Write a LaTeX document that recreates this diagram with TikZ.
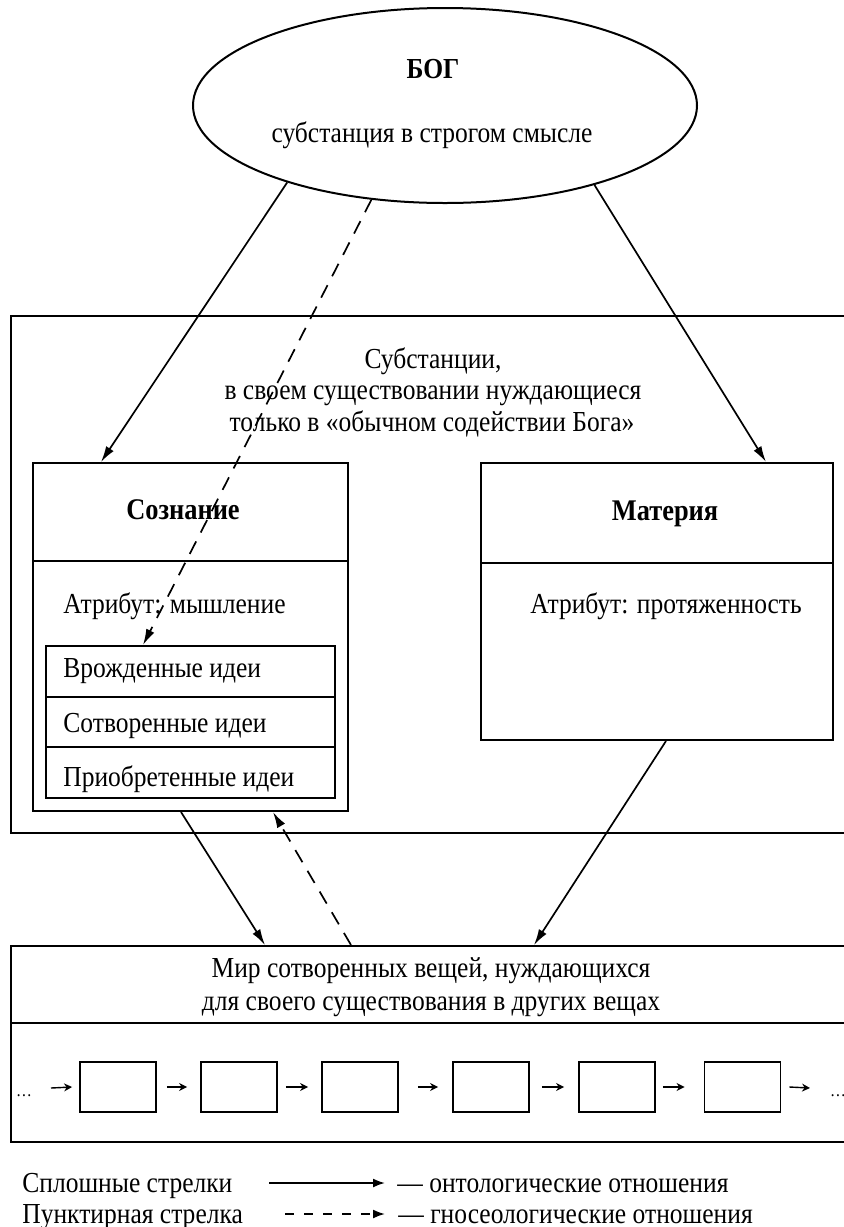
\documentclass[tikz,border=0pt]{standalone}
\usepackage{fontspec}
\setmainfont{Liberation Serif}[FakeStretch=0.88]
\usetikzlibrary{arrows.meta,shapes.geometric,calc}
\begin{document}
\begin{tikzpicture}[x=0.5pt,y=-0.5pt,
  box/.style={draw, line width=1pt, rectangle, inner sep=0pt},
  txt/.style={inner sep=0pt, font=\fontsize{14.5}{16}\selectfont},
  btxt/.style={inner sep=0pt, font=\fontsize{15}{17}\selectfont\bfseries},
  solidarrow/.style={line width=0.85pt, -{Latex[length=8pt,width=4.5pt]}},
  dasharrow/.style={solidarrow, dash pattern=on 7pt off 5pt},
  smallarrow/.style={line width=0.7pt, -{Stealth[length=4pt,width=4pt]}},
  legarrow/.style={line width=0.9pt, -{Latex[length=6pt,width=4.5pt]}},
  legdash/.style={legarrow, dash pattern=on 4.3pt off 5.2pt},
]
\useasboundingbox (0,0) rectangle (844,1227);
\clip (0,0) rectangle (844,1227);

% God
\node[box, ellipse, minimum width=252pt, minimum height=97.5pt] (god) at (445,105.5) {};
\node[btxt, font=\fontsize{14.5}{16}\selectfont\bfseries, anchor=base] (godname) at (433,78) {БОГ};
\node[txt, anchor=base] (godsub) at (432,142) {субстанция в строгом смысле};

% substances box
\node[box, minimum width=429.5pt, minimum height=258.5pt] (subst) at (440.5,574.5) {};
\node[txt, anchor=base] (sub1) at (433,368) {Субстанции,};
\node[txt, anchor=base] (sub2) at (433,399) {в своем существовании нуждающиеся};
\node[txt, anchor=base] (sub3) at (432,431) {только в «обычном содействии Бога»};

% consciousness
\node[box, minimum width=157.5pt, minimum height=49pt] (sozhead) at (190.5,512) {};
\node[box, minimum width=157.5pt, minimum height=125pt] (sozbody) at (190.5,686) {};
\node[btxt, anchor=base] (sozname) at (183,519) {Сознание};
\node[txt, anchor=base west] (sozattr) at (63,613) {Атрибут: мышление};
\node[box, minimum width=144.5pt, minimum height=25.5pt] (idea1) at (190.5,671.5) {};
\node[box, minimum width=144.5pt, minimum height=25pt] (idea2) at (190.5,722) {};
\node[box, minimum width=144.5pt, minimum height=25.5pt] (idea3) at (190.5,772.5) {};
\node[txt, anchor=base west] (idea1t) at (63,677) {Врожденные идеи};
\node[txt, anchor=base west] (idea2t) at (63,732) {Сотворенные идеи};
\node[txt, anchor=base west] (idea3t) at (63,786) {Приобретенные идеи};

% matter
\node[box, minimum width=176pt, minimum height=50pt] (mathead) at (657,513) {};
\node[box, minimum width=176pt, minimum height=88.5pt] (matbody) at (657,651.5) {};
\node[btxt, anchor=base] (matname) at (665,520) {Материя};
\node[txt, anchor=base west] (matattr) at (530,613) {Атрибут: протяженность};

% world
\node[box, minimum width=429.5pt, minimum height=38.5pt] (worldhead) at (440.5,984.5) {};
\node[box, minimum width=429.5pt, minimum height=59.5pt] (worldbody) at (440.5,1082.5) {};
\node[txt, anchor=base] (world1) at (431,977) {Мир сотворенных вещей, нуждающихся};
\node[txt, anchor=base] (world2) at (431,1010) {для своего существования в других вещах};

% small boxes
\foreach \i/\x in {1/118,2/239,3/360,4/491,5/617,6/742.5}
  \node[box, line width=0.9pt, minimum width=38pt, minimum height=25pt] (b\i) at (\x,1087) {};
\node[inner sep=0pt, font=\fontsize{9}{10}\selectfont, anchor=base] (dotsl) at (24,1096) {…};
\node[inner sep=0pt, font=\fontsize{9}{10}\selectfont, anchor=base] (dotsr) at (838,1096) {…};
\coordinate (al) at (51,1088);
\coordinate (ar) at (810,1088);
\draw[smallarrow] (al) -- ([xshift=-3.5pt]b1.west);
\draw[smallarrow] ([xshift=5pt]b1.east) -- ([xshift=-6.5pt]b2.west);
\draw[smallarrow] ([xshift=4pt]b2.east) -- ([xshift=-6.5pt]b3.west);
\draw[smallarrow] ([xshift=9.5pt]b3.east) -- ([xshift=-7pt]b4.west);
\draw[smallarrow] ([xshift=6pt]b4.east) -- ([xshift=-7pt]b5.west);
\draw[smallarrow] ([xshift=3.5pt]b5.east) -- ([xshift=-9.5pt]b6.west);
\draw[smallarrow] ([xshift=4pt]b6.east) -- (ar);

% connectors
\draw[solidarrow] (god.206) -- ([xshift=34.5pt]sozhead.north west);
\draw[solidarrow] (god.332) -- ([xshift=143pt]mathead.north west);
\draw[dasharrow] (god.232) -- ([xshift=49pt]idea1.north west);
\draw[solidarrow] ([xshift=74.5pt]sozbody.south west) -- ([xshift=127.5pt]worldhead.north west);
\draw[dasharrow] ([xshift=170.5pt]worldhead.north west) -- ([xshift=120.5pt]sozbody.south west);
\draw[solidarrow] ([xshift=93pt]matbody.south west) -- ([xshift=262pt]worldhead.north west);

% legend
\node[txt, anchor=base west] (leg1) at (22,1192) {Сплошные стрелки};
\coordinate (l1a) at (269,1183);
\coordinate (l1b) at (385,1183);
\draw[legarrow] (l1a) -- (l1b);
\node[txt, anchor=base west] (leg1t) at (397,1192) {— онтологические отношения};
\node[txt, anchor=base west] (leg2) at (22,1223) {Пунктирная стрелка};
\coordinate (l2a) at (285,1214);
\coordinate (l2b) at (385,1214);
\draw[legdash] (l2a) -- (l2b);
\node[txt, anchor=base west] (leg2t) at (398,1223) {— гносеологические отношения};
\end{tikzpicture}
\end{document}
